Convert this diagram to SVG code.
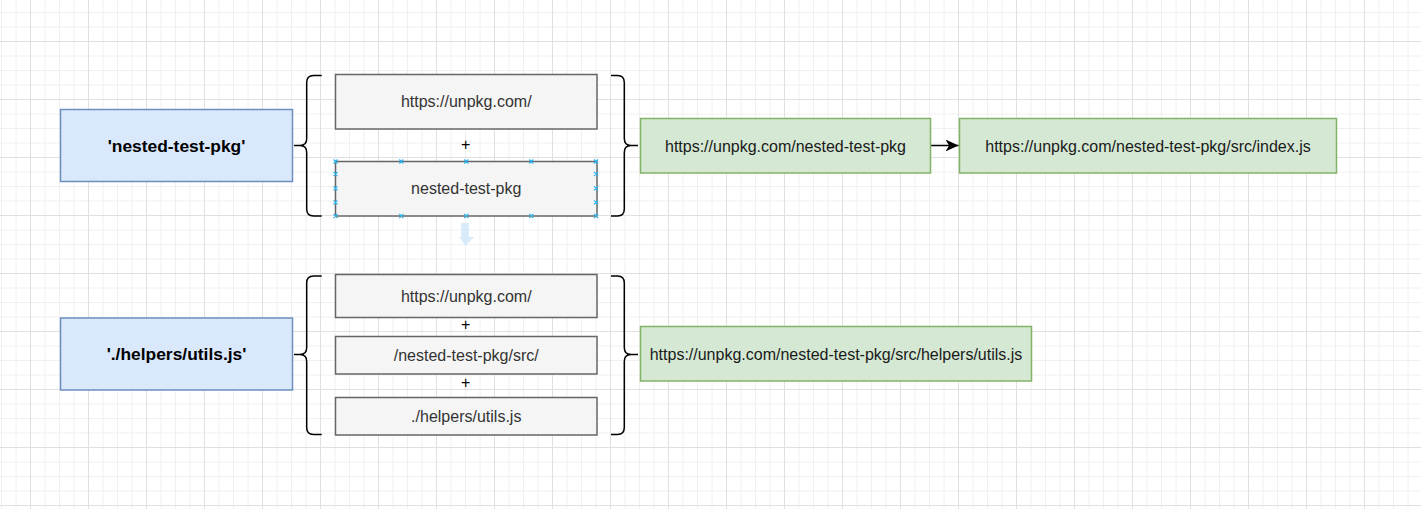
<svg xmlns="http://www.w3.org/2000/svg" width="1421" height="509" viewBox="0 0 1421 509">
<defs>
<pattern id="grid" x="30" y="41" width="58" height="58" patternUnits="userSpaceOnUse">
<path d="M15 0V58M29.5 0V58M44 0V58M0 15H58M0 29.5H58M0 44H58" stroke="#f0f0f0" stroke-width="1" fill="none"/>
<path d="M0.5 0V58M0 0.5H58" stroke="#e0e0e0" stroke-width="1" fill="none"/>
</pattern>
<marker id="arrow" viewBox="0 0 14 12" refX="13" refY="6" markerWidth="14" markerHeight="12" markerUnits="userSpaceOnUse" orient="auto">
<path d="M0 0L13 6L0 12L3.5 6Z" fill="#000"/>
</marker>
<style>
.blue{fill:#dae8fc;stroke:#6c8ebf;stroke-width:1.5}
.gray{fill:#f5f5f5;stroke:#666666;stroke-width:1.5}
.green{fill:#d5e8d4;stroke:#82b366;stroke-width:1.5}
.brace{fill:none;stroke:#000;stroke-width:1.5}
.t{font-family:"Liberation Sans",Arial,Helvetica,sans-serif;font-size:16px;text-anchor:middle}
.tg{fill:#333333}
.tk{fill:#1a1a1a}
.tb{font-weight:bold;font-size:17.4px;fill:#000}
.h{stroke:#29b6f2;stroke-width:1.2;fill:none}
</style>
</defs>
<rect width="1421" height="509" fill="#ffffff"/>
<rect width="1421" height="509" fill="url(#grid)"/>

<g id="node-pkg">
<rect class="blue" x="60.5" y="109.5" width="232" height="72"/>
<text class="t tb" x="176.5" y="151.5">'nested-test-pkg'</text>
</g>
<g id="node-utils">
<rect class="blue" x="60.5" y="318" width="232" height="72"/>
<text class="t tb" x="176.5" y="360">'./helpers/utils.js'</text>
</g>

<g id="brace-top-left"><path class="brace" d="M321.7 75.5H313.5Q306.7 75.5 306.7 82.5V138.5Q306.7 145.5 300 145.5H294M300 145.5Q306.7 145.5 306.7 152.5V209Q306.7 216 313.5 216H321.7"/></g>
<g id="brace-top-right"><path class="brace" d="M611 75.5H617.5Q624.3 75.5 624.3 82.5V138.5Q624.3 145.5 631 145.5H638M631 145.5Q624.3 145.5 624.3 152.5V209Q624.3 216 617.5 216H611"/></g>
<g id="brace-bot-left"><path class="brace" d="M321.7 276H313.5Q306.7 276 306.7 283V347.5Q306.7 354.5 300 354.5H294M300 354.5Q306.7 354.5 306.7 361.5V427.5Q306.7 434.5 313.5 434.5H321.7"/></g>
<g id="brace-bot-right"><path class="brace" d="M611 276H617.5Q624.3 276 624.3 283V347.5Q624.3 354.5 631 354.5H638M631 354.5Q624.3 354.5 624.3 361.5V427.5Q624.3 434.5 617.5 434.5H611"/></g>

<g id="node-base1">
<rect class="gray" x="335.5" y="74.5" width="261.5" height="54.5"/>
<text class="t tg" x="466.25" y="107.3">https://unpkg.com/</text>
</g>
<g id="plus1"><text class="t" x="465.7" y="149.5" fill="#000">+</text></g>
<g id="node-name">
<rect class="gray" x="335.5" y="161.5" width="261.5" height="54.5"/>
<text class="t tg" x="466.25" y="194.3">nested-test-pkg</text>
</g>
<g id="selection-handles">
<path class="h" d="M333.5 159.5l4 4m0 -4l-4 4M399.3 159.5l4 4m0 -4l-4 4M464.3 159.5l4 4m0 -4l-4 4M529.3 159.5l4 4m0 -4l-4 4M594 159.5l4 4m0 -4l-4 4M333.5 214l4 4m0 -4l-4 4M399.3 214l4 4m0 -4l-4 4M464.3 214l4 4m0 -4l-4 4M529.3 214l4 4m0 -4l-4 4M594 214l4 4m0 -4l-4 4M333.5 172l4 4m0 -4l-4 4M333.5 186.3l4 4m0 -4l-4 4M333.5 200.3l4 4m0 -4l-4 4M594 172l4 4m0 -4l-4 4M594 186.3l4 4m0 -4l-4 4M594 200.3l4 4m0 -4l-4 4"/>
<path d="M461 223H469V237H474L465.5 246L459.3 237H461Z" fill="#cfe7f8" opacity="0.8"/>
</g>

<g id="node-base2">
<rect class="gray" x="335.5" y="274.5" width="261.5" height="43"/>
<text class="t tg" x="466.25" y="301.5">https://unpkg.com/</text>
</g>
<g id="plus2"><text class="t" x="465.7" y="330" fill="#000">+</text></g>
<g id="node-src">
<rect class="gray" x="335.5" y="336.5" width="261.5" height="37.5"/>
<text class="t tg" x="466.25" y="360.8">/nested-test-pkg/src/</text>
</g>
<g id="plus3"><text class="t" x="465.7" y="388.3" fill="#000">+</text></g>
<g id="node-rel">
<rect class="gray" x="335.5" y="397.5" width="261.5" height="37.5"/>
<text class="t tg" x="466.25" y="421.8">./helpers/utils.js</text>
</g>

<g id="node-url1">
<rect class="green" x="640.5" y="118.5" width="290" height="54.5"/>
<text class="t tk" x="785.5" y="151.5">https://unpkg.com/nested-test-pkg</text>
</g>
<g id="node-url2">
<rect class="green" x="959.5" y="118.5" width="377" height="54.5"/>
<text class="t tk" x="1148" y="151.5">https://unpkg.com/nested-test-pkg/src/index.js</text>
</g>
<g id="node-url3">
<rect class="green" x="640.5" y="326.5" width="391" height="54.5"/>
<text class="t tk" x="836" y="359.5">https://unpkg.com/nested-test-pkg/src/helpers/utils.js</text>
</g>

<g id="connectors">
<path d="M931.2 145.5H958.5" stroke="#000" stroke-width="1.5" fill="none" marker-end="url(#arrow)"/>
</g>
</svg>
